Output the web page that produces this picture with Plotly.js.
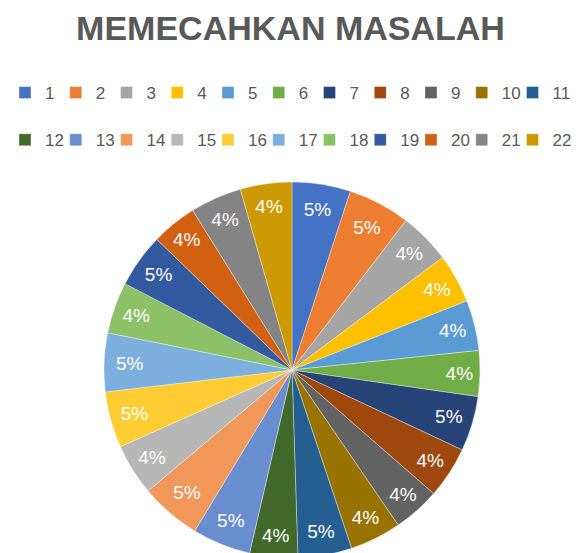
<!DOCTYPE html>
<html>
<head>
<meta charset="utf-8">
<script src="https://cdn.plot.ly/plotly-3.0.1.min.js"></script>
<style>html,body{margin:0;padding:0;overflow:hidden;background:#fff}#chart{width:581px;height:558px}</style>
</head>
<body>
<div id="chart"></div>
<script>
// categories (legend labels)
const labels = ["1","2","3","4","5","6","7","8","9","10","11","12","13","14","15","16","17","18","19","20","21","22"];
// slice values (in percent of the whole)
const values = [5.0,5.3,4.4,4.2,4.3,3.9,4.7,4.4,4.0,4.4,4.6,4.1,5.0,5.2,4.4,4.8,5.0,4.4,4.6,3.9,4.4,4.4];
// slice colours (Office palette)
const colors = ["#4472C4","#ED7D31","#A5A5A5","#FFC000","#5B9BD5","#70AD47","#264478","#9E480E","#636363","#997300","#255E91","#43682B","#698ED0","#F1975A","#B7B7B7","#FFCD33","#7CAFDD","#8CC168","#335AA1","#D26012","#848484","#CC9A00"];
const titleText = "MEMECAHKAN MASALAH";

const W = 581, H = 558;
const ML = 0, MR = 11, MT = 182, MB = 0;
const plotW = W - ML - MR;

const trace = {
  type: "pie",
  labels: labels.map(l => l + "<br> "),
  values: values,
  sort: false,
  direction: "clockwise",
  rotation: 0,
  marker: {colors: colors, line: {color: "rgba(255,255,255,0.6)", width: 0.6}},
  texttemplate: "%{percent:.0%}",
  textposition: "inside",
  insidetextorientation: "horizontal",
  textfont: {family: "Liberation Sans, Arial, sans-serif", size: 19, color: "#ffffff"},
  hoverinfo: "label+percent",
  domain: {x: [(104 - ML) / plotW, (480 - ML) / plotW], y: [0, 1]}
};

const layout = {
  width: W,
  height: H,
  margin: {l: ML, r: MR, t: MT, b: MB, autoexpand: false},
  paper_bgcolor: "#ffffff",
  showlegend: true,
  title: {
    text: titleText,
    font: {family: "Liberation Sans, Arial, sans-serif", size: 34, color: "#595959", weight: "bold"},
    xref: "container", yref: "container",
    x: 0.5, xanchor: "center",
    y: 1 - 28 / H, yanchor: "middle"
  },
  legend: {
    orientation: "h",
    x: 5 / plotW, xanchor: "left",
    y: 1 + (MT - 75) / (H - MT - MB), yanchor: "top",
    entrywidth: 5.75,
    valign: "top",
    font: {family: "Liberation Sans, Arial, sans-serif", size: 17, color: "#595959"},
    bgcolor: "rgba(0,0,0,0)"
  }
};

Plotly.newPlot("chart", [trace], layout, {displayModeBar: false, staticPlot: true}).then(function () {
  // let the last legend column's text show past the entry width
  document.querySelectorAll("#chart .legend .scrollbox").forEach(function (el) {
    el.removeAttribute("clip-path");
  });
});
</script>
</body>
</html>
